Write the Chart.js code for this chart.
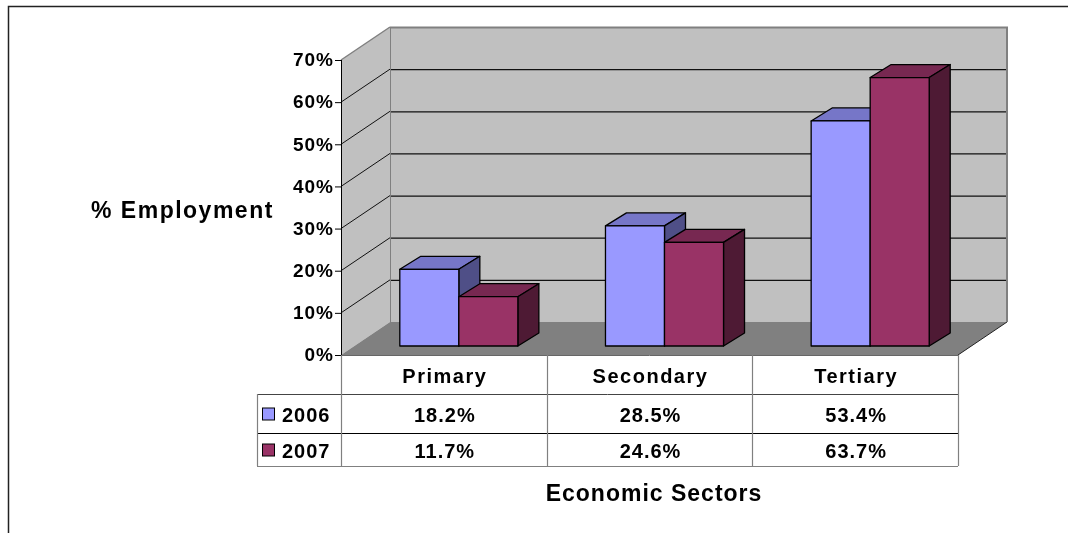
<!DOCTYPE html>
<html><head><meta charset="utf-8">
<script src="https://cdn.jsdelivr.net/npm/chart.js@4.4.0/dist/chart.umd.min.js"></script>
<style>html,body{margin:0;padding:0;background:#fff}#wrap{width:1068px;height:533px;position:relative}</style>
</head><body><div id="wrap"><canvas id="c"></canvas></div>
<script>
const categories = ['Primary', 'Secondary', 'Tertiary'];
const seriesNames = ['2006', '2007'];
const values2006 = [18.2, 28.5, 53.4];
const values2007 = [11.7, 24.6, 63.7];
const yTicks = [0, 10, 20, 30, 40, 50, 60, 70];
const yTitle = '% Employment';
const xTitle = 'Economic Sectors';

const frontColors = ['#9999FF', '#993366'];
const topColors = ['#7676C8', '#772851'];
const sideColors = ['#4F4F87', '#4E1A34'];

const DX = 49, DY = -33;      // wall depth
const OX = 15, OY = -9;       // bar front offset into depth
const BDX = 21, BDY = -13;    // bar depth
const FONT = '"Liberation Sans", Arial, sans-serif';

function poly(ctx, pts, fill, stroke, lw) {
  ctx.beginPath();
  ctx.moveTo(pts[0][0], pts[0][1]);
  for (let i = 1; i < pts.length; i++) ctx.lineTo(pts[i][0], pts[i][1]);
  ctx.closePath();
  if (fill) { ctx.fillStyle = fill; ctx.fill(); }
  if (stroke) { ctx.strokeStyle = stroke; ctx.lineWidth = lw || 1; ctx.stroke(); }
}
function line(ctx, x1, y1, x2, y2, color, lw) {
  ctx.beginPath(); ctx.moveTo(x1, y1); ctx.lineTo(x2, y2);
  ctx.strokeStyle = color; ctx.lineWidth = lw || 1; ctx.stroke();
}

const excel3d = {
  id: 'excel3d',
  beforeDatasetsDraw(chart) {
    const { ctx, chartArea: a, scales: { y } } = chart;
    const L = a.left, R = a.right;
    const T = y.getPixelForValue(yTicks[yTicks.length - 1]);
    const B = y.getPixelForValue(0);
    ctx.save();
    poly(ctx, [[L + DX, T + DY], [R + DX, T + DY], [R + DX, B + DY], [L + DX, B + DY]], '#C0C0C0');
    poly(ctx, [[L, T], [L + DX, T + DY], [L + DX, B + DY], [L, B]], '#C0C0C0');
    poly(ctx, [[L, B], [R, B], [R + DX, B + DY], [L + DX, B + DY]], '#808080');
    line(ctx, R, B, R + DX, B + DY, '#222', 1);
    yTicks.forEach(v => {
      if (v === 0 || v === yTicks[yTicks.length - 1]) return;
      const py = y.getPixelForValue(v);
      line(ctx, L + DX, py + DY + 0.5, R + DX, py + DY + 0.5, '#111', 1.2);
      line(ctx, L, py, L + DX, py + DY, '#111', 1);
    });
    line(ctx, L + DX, T + DY + 0.5, R + DX + 1, T + DY + 0.5, '#808080', 2);
    line(ctx, R + DX, T + DY, R + DX, B + DY, '#808080', 2);
    line(ctx, L, T, L + DX, T + DY, '#808080', 1.5);
    line(ctx, L + DX + 0.5, T + DY, L + DX + 0.5, B + DY, '#808080', 1);
    ctx.restore();
    ctx.save();
    ctx.translate(OX, OY);
  },
  afterDatasetsDraw(chart) {
    const { ctx, chartArea: a, scales: { x, y } } = chart;
    ctx.restore();
    const L = a.left, R = a.right;
    const T = y.getPixelForValue(yTicks[yTicks.length - 1]);
    const B = y.getPixelForValue(0);

    ctx.save();
    ctx.lineJoin = 'round';
    for (let i = 0; i < categories.length; i++) {
      for (let d = 0; d < chart.data.datasets.length; d++) {
        const el = chart.getDatasetMeta(d).data[i];
        const p = el.getProps(['x', 'y', 'base', 'width'], true);
        const l = p.x - p.width / 2 + OX, r = p.x + p.width / 2 + OX;
        const t = p.y + OY, b = p.base + OY;
        poly(ctx, [[l, t], [r, t], [r + BDX, t + BDY], [l + BDX, t + BDY]], topColors[d], '#000', 1.3);
        poly(ctx, [[r, t], [r + BDX, t + BDY], [r + BDX, b + BDY], [r, b]], sideColors[d], '#000', 1.3);
        poly(ctx, [[l, t], [r, t], [r, b], [l, b]], frontColors[d], '#000', 1.3);
      }
    }
    ctx.restore();

    ctx.save();
    line(ctx, L + 0.5, T, L + 0.5, B, '#000', 1);
    ctx.font = 'bold 19px ' + FONT;
    ctx.letterSpacing = '1px';
    ctx.fillStyle = '#000';
    ctx.textAlign = 'right';
    ctx.textBaseline = 'middle';
    yTicks.forEach(v => {
      const py = y.getPixelForValue(v);
      line(ctx, L - 6, py + 0.5, L, py + 0.5, '#000', 1);
      ctx.fillText(v + '%', L - 7, py + 1);
    });

    const rowTop = B, rowH1 = B + 39, rowH2 = B + 78, rowBot = B + 111;
    const legL = L - 84;
    const bounds = [L];
    for (let i = 0; i < categories.length - 1; i++) {
      bounds.push((x.getPixelForValue(i) + x.getPixelForValue(i + 1)) / 2);
    }
    bounds.push(R);
    ctx.fillStyle = '#fff';
    ctx.fillRect(L, rowTop + 1, R - L, rowBot - rowTop - 1);
    ctx.fillRect(legL, rowH1, L - legL, rowBot - rowH1);
    line(ctx, L, rowTop + 0.5, R, rowTop + 0.5, '#666', 1);
    line(ctx, legL, rowH1 + 0.5, R, rowH1 + 0.5, '#444', 1);
    line(ctx, legL, rowH2 + 0.5, R, rowH2 + 0.5, '#000', 1.2);
    line(ctx, legL, rowBot + 0.5, R, rowBot + 0.5, '#808080', 1.2);
    line(ctx, legL + 0.5, rowH1, legL + 0.5, rowBot, '#808080', 1.2);
    bounds.forEach(bx => line(ctx, Math.round(bx) + 0.5, rowTop, Math.round(bx) + 0.5, rowBot, '#808080', 1.2));

    const seriesVals = [values2006, values2007];
    ctx.font = 'bold 20px ' + FONT;
    ctx.letterSpacing = '1px';
    ctx.fillStyle = '#000';
    ctx.textAlign = 'center';
    ctx.textBaseline = 'alphabetic';
    categories.forEach((c, i) => {
      const cx = x.getPixelForValue(i) + 1;
      ctx.letterSpacing = '1.5px';
      ctx.fillText(c, cx, rowTop + 28);
      ctx.letterSpacing = '1px';
      ctx.fillText(seriesVals[0][i].toFixed(1) + '%', cx, rowH1 + 28);
      ctx.fillText(seriesVals[1][i].toFixed(1) + '%', cx, rowH2 + 25);
    });
    ctx.textAlign = 'left';
    seriesNames.forEach((s, d) => {
      const top = d === 0 ? rowH1 : rowH2;
      const bot = d === 0 ? rowH2 : rowBot;
      const cy = (top + bot) / 2;
      ctx.fillStyle = frontColors[d];
      ctx.fillRect(legL + 5.5, cy - 5.5, 12, 12);
      ctx.strokeStyle = '#000'; ctx.lineWidth = 1;
      ctx.strokeRect(legL + 5.5, cy - 5.5, 12, 12);
      ctx.fillStyle = '#000';
      ctx.fillText(s, legL + 25, top + (d === 0 ? 28 : 25));
    });

    ctx.font = 'bold 23px ' + FONT;
    ctx.letterSpacing = '1.5px';
    ctx.textAlign = 'left';
    ctx.fillText(yTitle, 91, 218);
    ctx.letterSpacing = '1px';
    ctx.textAlign = 'center';
    ctx.fillText(xTitle, 654, 501);

    ctx.letterSpacing = '0px';
    ctx.strokeStyle = '#222';
    ctx.lineWidth = 1.5;
    ctx.strokeRect(8.5, 6.5, 1200, 700);
    ctx.restore();
  }
};

new Chart(document.getElementById('c'), {
  type: 'bar',
  data: {
    labels: categories,
    datasets: [
      { label: seriesNames[0], data: values2006, backgroundColor: frontColors[0], borderColor: '#000', borderWidth: 1 },
      { label: seriesNames[1], data: values2007, backgroundColor: frontColors[1], borderColor: '#000', borderWidth: 1 }
    ]
  },
  options: {
    responsive: true,
    maintainAspectRatio: false,
    animation: false,
    events: [],
    layout: { padding: { left: 341, right: 110, top: 60, bottom: 178 } },
    datasets: { bar: { categoryPercentage: 0.574, barPercentage: 1 } },
    plugins: { legend: { display: false }, tooltip: { enabled: false }, title: { display: false } },
    scales: {
      x: { display: false, offset: true },
      y: { display: false, min: yTicks[0], max: yTicks[yTicks.length - 1], ticks: { stepSize: 10 } }
    }
  },
  plugins: [excel3d]
});
</script>
</body></html>
